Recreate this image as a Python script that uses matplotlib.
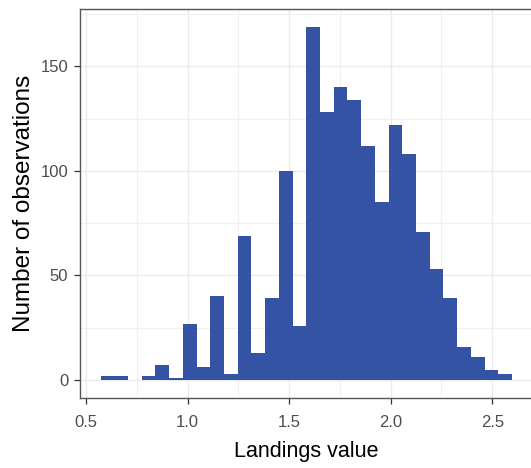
import matplotlib.pyplot as plt
import numpy as np
from matplotlib.ticker import MultipleLocator

# Histogram counts per bin (30 bins)
counts = [2, 2, 0, 2, 7, 1, 27, 6, 40, 3, 69, 13, 39, 100, 26,
          169, 128, 140, 134, 112, 85, 122, 108, 71, 53, 39, 16, 11, 5, 3]
bin_start = 0.571
bin_end = 2.597

x_ticks = [0.5, 1.0, 1.5, 2.0, 2.5]
y_ticks = [0, 50, 100, 150]

plt.rcParams['font.family'] = ['Liberation Sans', 'DejaVu Sans']

fig = plt.figure(figsize=(5.31, 4.68), dpi=100)
ax = fig.add_axes([80 / 531, (468 - 397.7) / 468,
                   (532.5 - 80) / 531, (397.7 - 9) / 468])

edges = np.linspace(bin_start, bin_end, len(counts) + 1)
centers = (edges[:-1] + edges[1:]) / 2
ax.hist(centers, bins=edges, weights=counts, color='#3553a4',
        edgecolor='none', linewidth=0, zorder=3)

span = bin_end - bin_start
ax.set_xlim(bin_start - 0.05 * span, bin_end + 0.05 * span)
ax.set_ylim(-0.05 * max(counts), 1.05 * max(counts))

ax.set_xticks(x_ticks)
ax.set_xticklabels([f"{v:.1f}" for v in x_ticks])
ax.set_yticks(y_ticks)
ax.xaxis.set_minor_locator(MultipleLocator(0.25))
ax.yaxis.set_minor_locator(MultipleLocator(25))

ax.grid(True, which='major', color='#ebebeb', linewidth=1.0, zorder=0)
ax.grid(True, which='minor', color='#f0f0f0', linewidth=0.8, zorder=0)
ax.set_axisbelow(True)

ax.tick_params(which='major', length=4.5, width=0.9, color='#333333',
               labelcolor='#4d4d4d', labelsize=12, pad=4)
ax.tick_params(axis='x', which='major', pad=8)
ax.tick_params(which='minor', length=0)

for side in ['left', 'bottom', 'top', 'right']:
    ax.spines[side].set_color('#555555')
    ax.spines[side].set_linewidth(1.0)

ax.set_xlabel('Landings value', fontsize=15.5, color='black', labelpad=8)
ax.set_ylabel('Number of observations', fontsize=17.5, color='black', labelpad=4)

fig.savefig('out.png', dpi=100)
